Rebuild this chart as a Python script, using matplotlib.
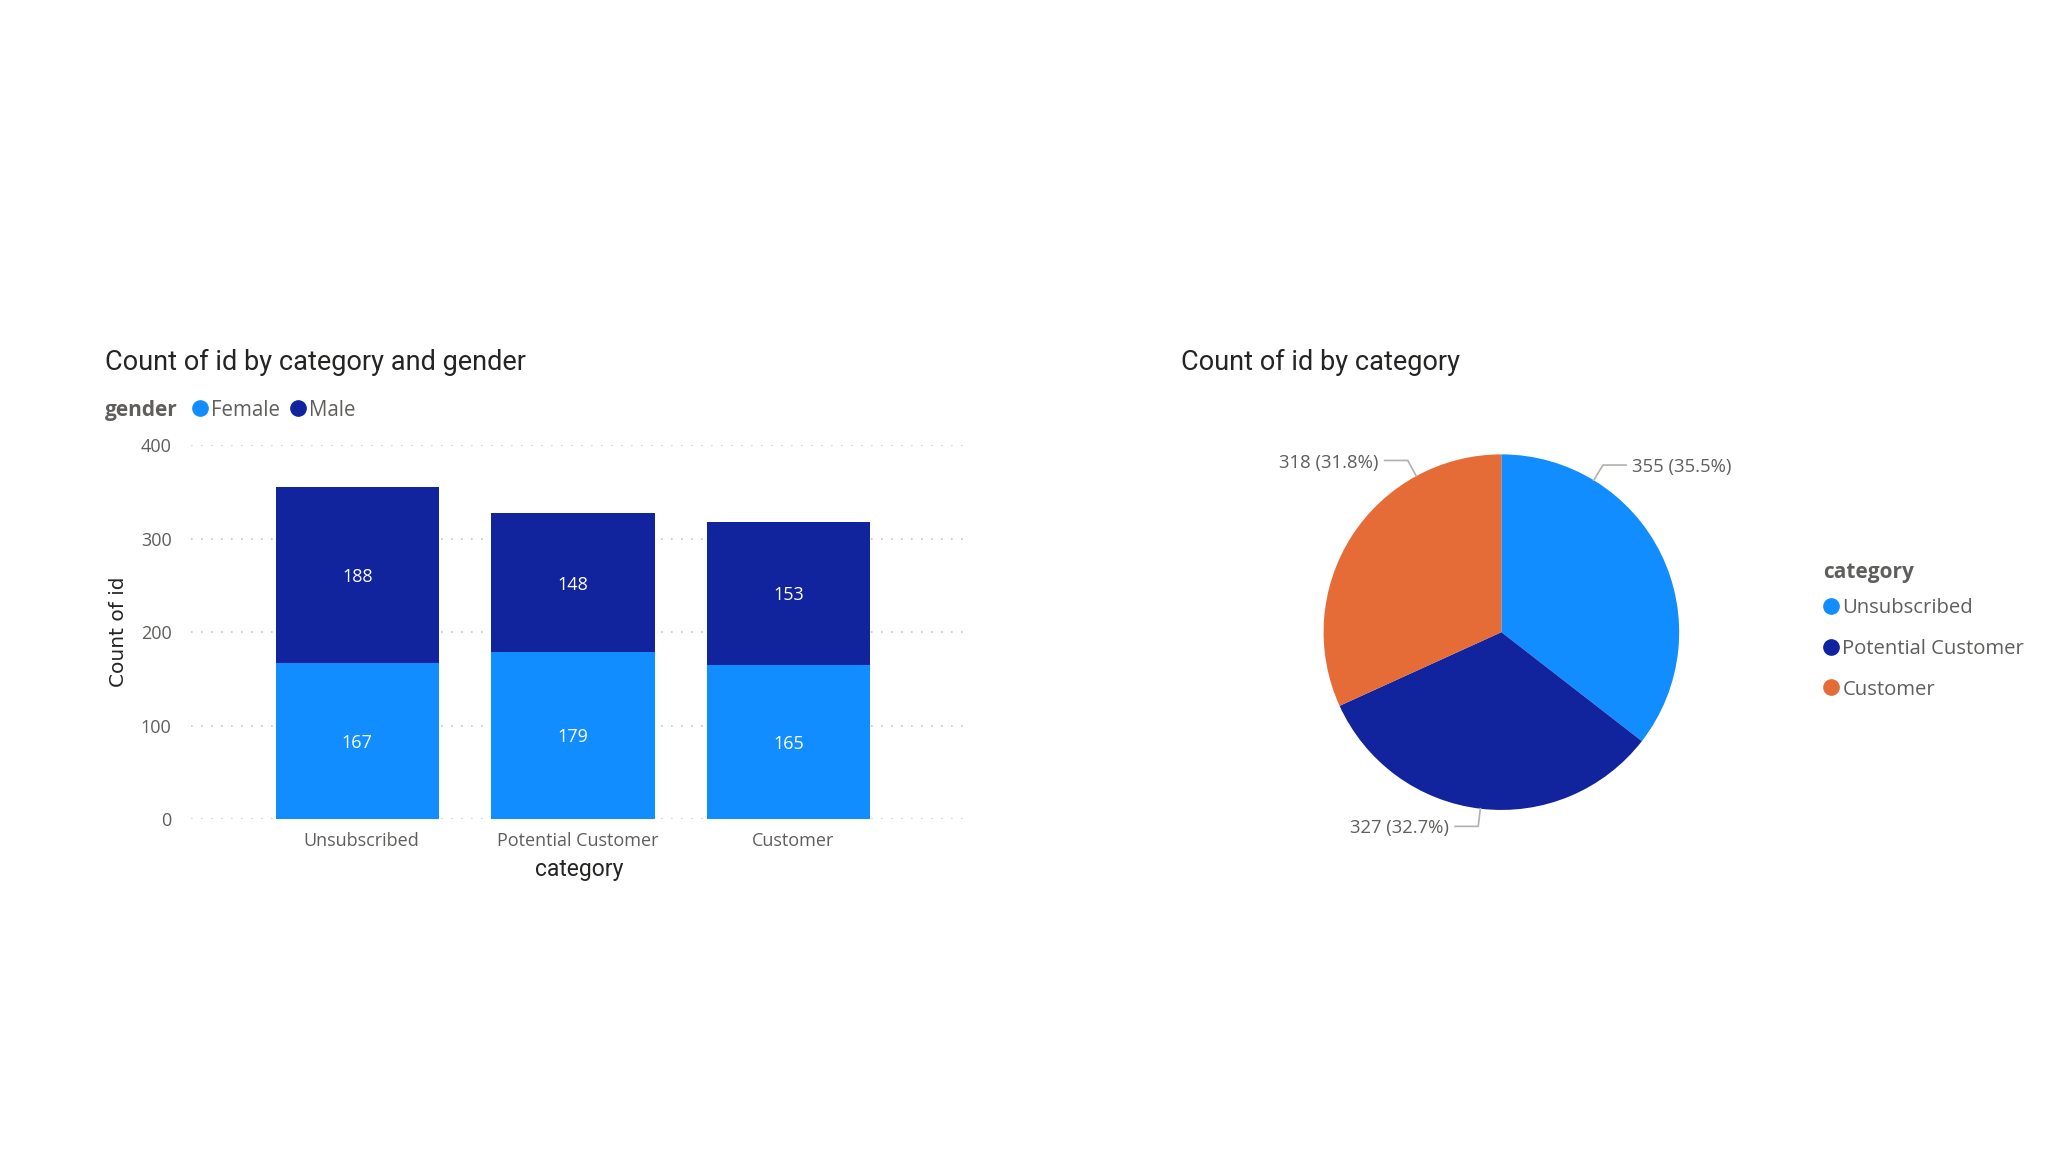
import numpy as np
import matplotlib.pyplot as plt
from matplotlib.lines import Line2D

categories = ["Unsubscribed", "Potential Customer", "Customer"]
female = [167, 179, 165]
male = [188, 148, 153]
totals = [355, 327, 318]
y_ticks = [0, 100, 200, 300, 400]

c_female = "#118DFF"
c_male = "#12239E"
c_cust = "#E66C37"
pie_colors = [c_female, c_male, c_cust]
title_col = "#252423"
tick_col = "#605E5C"

plt.rcParams["font.family"] = ["Open Sans", "DejaVu Sans"]

W, H = 2064, 1160
S = 1.317  # screen px -> output px
fig = plt.figure(figsize=(W / 100, H / 100), dpi=100)


def fx(px):
    return px * S / W


def fy(py):
    return 1 - py * S / H


# ---- stacked bar chart ----
ax = fig.add_axes([fx(145), fy(622), fx(735 - 145), (622 - 338) * S / H])
x = np.arange(len(categories))
bw = 0.756
ax.bar(x, female, bw, color=c_female, zorder=2)
ax.bar(x, male, bw, bottom=female, color=c_male, zorder=2)
for i in range(len(categories)):
    ax.text(x[i], female[i] / 2, str(female[i]), color="white", ha="center",
            va="center_baseline", fontsize=13)
    ax.text(x[i], female[i] + male[i] / 2, str(male[i]), color="white",
            ha="center", va="center_baseline", fontsize=13)

ax.set_xlim(-0.77, 2.83)
ax.set_ylim(0, 400)
ax.set_yticks(y_ticks)
ax.set_xticks(x + 0.02)
ax.set_xticklabels(categories)
ax.tick_params(axis="both", length=0, colors=tick_col, labelsize=13)
ax.tick_params(axis="y", pad=14)
ax.tick_params(axis="x", pad=9)
for s in ax.spines.values():
    s.set_visible(False)
ax.yaxis.grid(True, color="#C8C6C4", linestyle=(0, (1, 5)), linewidth=1.2)
ax.set_axisbelow(True)
ax.set_xlabel("category", fontsize=16.5, color=title_col, labelpad=6,
              family="Roboto")
ax.set_ylabel("Count of id", fontsize=14.5, color=title_col, labelpad=9,
              family="DejaVu Sans")

fig.text(fx(80), fy(275), "Count of id by category and gender", fontsize=19.5,
         color=title_col, va="center", family="Roboto")

# legend row for gender
fig.text(fx(80), fy(312), "gender", fontsize=15, color=tick_col,
         fontweight="bold", va="center")
for mx, tx, lab, col in [(152, 160, "Female", c_female), (226, 235, "Male", c_male)]:
    fig.add_artist(Line2D([fx(mx)], [fy(310)], marker="o", markersize=11,
                          color=col, linestyle="none", transform=fig.transFigure))
    fig.text(fx(tx), fy(312), lab, fontsize=14.8, color=tick_col, va="center")

# ---- pie chart ----
R = 135 * S
span = 1.7
cx, cy = 1140 * S, 480 * S
pax = fig.add_axes([(cx - R * span) / W, 1 - (cy + R * span) / H,
                    2 * R * span / W, 2 * R * span / H])
pax.pie(totals, colors=pie_colors, startangle=90, counterclock=False,
        radius=1, wedgeprops=dict(linewidth=0))
pax.set_xlim(-span, span)
pax.set_ylim(-span, span)
pax.set_aspect("equal")
pax.axis("off")

total = sum(totals)
label_angles = [58.7, 263.2, 118.6]
for v, ang in zip(totals, label_angles):
    a = np.deg2rad(ang)
    x0, y0 = np.cos(a), np.sin(a)
    x1, y1 = 1.1 * np.cos(a), 1.1 * np.sin(a)
    side = 1 if x0 > 0 else -1
    x2 = x1 + side * 0.13
    pax.plot([x0, x1, x2], [y0, y1, y1], color="#B3B0AD", linewidth=1.2,
             clip_on=False)
    pax.text(x2 + side * 0.035, y1 - 0.012, f"{v} ({v / total * 100:.1f}%)",
             ha="left" if side > 0 else "right", va="center", fontsize=13.3,
             color=tick_col)

fig.text(fx(897), fy(275), "Count of id by category", fontsize=19.5,
         color=title_col, va="center", family="Roboto")

fig.text(fx(1384), fy(435), "category", fontsize=15, color=tick_col,
         fontweight="bold", va="center")
for i, (lab, col) in enumerate(zip(categories, pie_colors)):
    yy = 460 + i * 31
    fig.add_artist(Line2D([fx(1390)], [fy(yy)], marker="o", markersize=11,
                          color=col, linestyle="none", transform=fig.transFigure))
    fig.text(fx(1399), fy(yy + 2), lab, fontsize=14.6, color=tick_col, va="center")

fig.savefig("out.png", dpi=100, facecolor="white")
